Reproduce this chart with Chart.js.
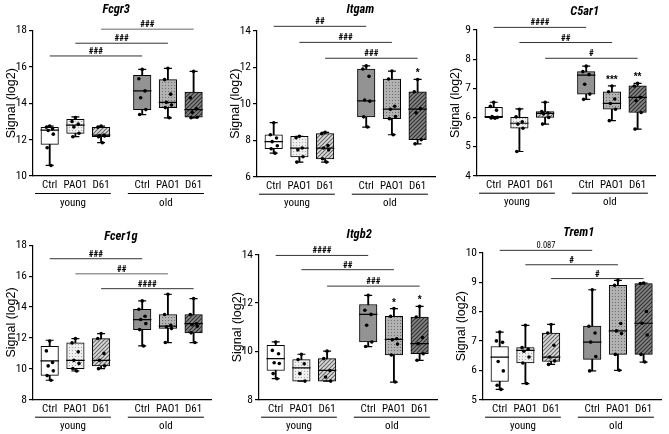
<!DOCTYPE html>
<html>
<head>
<meta charset="utf-8">
<script src="https://cdn.jsdelivr.net/npm/chart.js@4.4.1/dist/chart.umd.min.js"></script>
<style>
  body { margin: 0; background: #fff; }
  #wrap { position: relative; width: 669px; height: 434px; overflow: hidden; background: #fff; }
  canvas { position: absolute; }
</style>
</head>
<body>
<div id="wrap">
  <canvas id="c0" width="223" height="217"></canvas>
  <canvas id="c1" width="223" height="217"></canvas>
  <canvas id="c2" width="223" height="217"></canvas>
  <canvas id="c3" width="223" height="217"></canvas>
  <canvas id="c4" width="223" height="217"></canvas>
  <canvas id="c5" width="223" height="217"></canvas>
</div>
<script>
const genes = ["Fcgr3", "Itgam", "C5ar1", "Fcer1g", "Itgb2", "Trem1"];
const groups = ["Ctrl", "PAO1", "D61", "Ctrl", "PAO1", "D61"];
const ages = ["young", "old"];

const yMin = [10, 6, 4, 8, 8, 5];
const yMax = [18, 14, 9, 18, 14, 10];
const yStep = [2, 2, 1, 2, 2, 1];

// box stats per group: [min, q1, median, q3, max]
const fcgr3Box = [
  [10.58, 11.74, 12.52, 12.67, 12.74], [12.16, 12.34, 12.8, 13.12, 13.25], [11.83, 12.16, 12.25, 12.67, 12.74],
  [13.38, 13.65, 14.68, 15.53, 15.86], [13.2, 13.76, 14.05, 15.3, 15.92], [13.2, 13.23, 13.65, 14.62, 15.75]
];
const itgamBox = [
  [7.29, 7.53, 7.92, 8.3, 8.96], [6.8, 7.09, 7.57, 8.21, 8.21], [6.8, 6.98, 7.57, 8.36, 8.43],
  [8.72, 9.28, 10.16, 11.9, 12.07], [8.3, 9.18, 9.7, 11.35, 11.79], [7.8, 8.03, 9.7, 10.65, 11.33]
];
const c5ar1Box = [
  [5.97, 5.99, 6.03, 6.35, 6.52], [4.83, 5.63, 5.8, 6.0, 6.29], [5.77, 6.0, 6.14, 6.2, 6.52],
  [6.62, 6.8, 7.45, 7.57, 7.76], [5.89, 6.28, 6.48, 6.88, 7.08], [5.6, 6.17, 6.69, 7.08, 7.17]
];
const fcer1gBox = [
  [9.26, 9.58, 10.51, 11.46, 11.85], [9.86, 10.01, 10.55, 11.68, 11.96], [10.01, 10.19, 10.55, 11.96, 12.28],
  [11.48, 12.54, 13.19, 13.86, 14.4], [11.7, 12.61, 12.76, 13.52, 14.83], [11.7, 12.33, 12.93, 13.52, 14.55]
];
const itgb2Box = [
  [8.87, 9.21, 9.7, 10.25, 10.39], [8.77, 8.77, 9.32, 9.66, 9.88], [8.77, 8.77, 9.21, 9.7, 10.01],
  [10.2, 10.39, 11.53, 11.94, 12.32], [8.73, 9.85, 10.5, 11.45, 11.77], [9.63, 9.9, 10.32, 11.42, 11.86]
];
const trem1Box = [
  [5.35, 5.62, 6.45, 6.81, 7.3], [5.55, 6.25, 6.68, 6.77, 7.53], [6.2, 6.3, 6.45, 7.27, 7.56],
  [5.98, 6.37, 6.96, 7.5, 8.74], [6.0, 6.54, 7.34, 8.89, 9.06], [6.28, 6.54, 7.6, 8.95, 8.97]
];

// individual animals
const fcgr3Pts = [
  [12.74, 12.68, 12.6, 12.5, 12.3, 11.55, 10.58], [13.22, 13.0, 12.85, 12.7, 12.35, 12.16], [12.74, 12.68, 12.25, 12.22, 12.2, 12.16, 11.83],
  [15.86, 15.35, 14.68, 14.3, 13.65, 13.38], [15.92, 15.3, 14.5, 14.05, 13.9, 13.76, 13.2], [15.75, 14.3, 13.7, 13.5, 13.23, 13.2]
];
const itgamPts = [
  [8.96, 8.3, 8.12, 7.92, 7.7, 7.53, 7.29], [8.21, 8.14, 7.57, 7.47, 7.09, 6.8], [8.43, 8.36, 7.71, 7.57, 7.47, 6.98, 6.8],
  [12.07, 11.9, 11.5, 10.2, 10.14, 9.28, 8.72], [11.79, 11.35, 9.86, 9.7, 9.3, 9.18, 8.3], [11.33, 10.65, 9.73, 9.5, 8.03, 7.8]
];
const c5ar1Pts = [
  [6.52, 6.38, 6.25, 6.03, 6.0, 5.98, 5.97], [6.28, 6.02, 5.85, 5.77, 5.63, 4.83], [6.52, 6.2, 6.15, 6.13, 6.0, 5.77],
  [7.76, 7.57, 7.47, 7.14, 6.8, 6.62], [7.08, 6.88, 6.63, 6.48, 6.28, 5.89], [7.17, 7.08, 6.69, 6.57, 6.17, 5.6]
];
const fcer1gPts = [
  [11.8, 11.16, 10.41, 10.19, 9.87, 9.56, 9.26], [11.96, 11.68, 11.1, 10.55, 10.35, 10.01, 9.86], [12.28, 11.96, 11.0, 10.55, 10.19, 10.01],
  [14.4, 13.86, 13.4, 13.19, 12.93, 12.54, 11.48], [14.83, 13.52, 12.82, 12.72, 12.61, 11.7], [14.55, 13.52, 12.93, 12.85, 12.76, 12.33, 11.7]
];
const itgb2Pts = [
  [10.39, 10.04, 9.9, 9.53, 9.5, 9.08, 8.87], [9.88, 9.66, 9.49, 9.08, 8.77], [10.01, 9.7, 9.21, 8.94, 8.77],
  [12.32, 11.7, 11.53, 11.08, 10.39, 10.2], [11.77, 11.45, 10.52, 10.48, 10.3, 9.85, 8.73], [11.86, 11.42, 10.57, 10.32, 9.9, 9.63]
];
const trem1Pts = [
  [7.3, 7.0, 6.95, 6.3, 5.98, 5.49, 5.35], [7.53, 6.77, 6.72, 6.65, 6.45, 6.25, 5.55], [7.56, 7.27, 6.85, 6.45, 6.32, 6.2],
  [8.74, 7.5, 7.27, 6.96, 6.47, 5.98], [9.06, 8.89, 7.59, 7.34, 7.25, 6.54, 6.0], [8.97, 8.95, 8.0, 7.6, 7.2, 6.54, 6.28]
];

// comparisons: [from group, to group, level, label]
const fcgr3Sig = [[0, 3, 16.6, "###"], [1, 4, 17.3, "###"], [2, 5, 18.07, "###"]];
const itgamSig = [[0, 3, 14.24, "##"], [1, 4, 13.36, "###"], [2, 5, 12.49, "###"]];
const c5ar1Sig = [[0, 3, 9.09, "####"], [1, 4, 8.57, "##"], [2, 5, 8.03, "#"]];
const fcer1gSig = [[0, 3, 17.13, "###"], [1, 4, 16.16, "##"], [2, 5, 15.19, "####"]];
const itgb2Sig = [[0, 3, 13.97, "####"], [1, 4, 13.38, "##"], [2, 5, 12.7, "###"]];
const trem1Sig = [[0, 3, 10.08, "0.087"], [1, 4, 9.59, "#"], [2, 5, 9.12, "#"]];

// stars vs. young of same treatment
const itgamStars = ["", "", "", "", "", "*"];
const c5ar1Stars = ["", "", "", "", "***", "**"];
const itgb2Stars = ["", "", "", "", "*", "*"];
const noStars = ["", "", "", "", "", ""];

const boxes = [fcgr3Box, itgamBox, c5ar1Box, fcer1gBox, itgb2Box, trem1Box];
const points = [fcgr3Pts, itgamPts, c5ar1Pts, fcer1gPts, itgb2Pts, trem1Pts];
const sigs = [fcgr3Sig, itgamSig, c5ar1Sig, fcer1gSig, itgb2Sig, trem1Sig];
const stars = [noStars, itgamStars, c5ar1Stars, noStars, itgb2Stars, noStars];

// layout
const POS = [1, 2, 3, 4.6, 5.6, 6.6];
const JITTER = [0, -0.13, 0.11, -0.06, 0.14, -0.1, 0.05, -0.16];
const LEFT = [-1, 222.7, 443.3, -1, 225, 449];
const TOP = [0, 0, 0, 217, 217, 217];
const PLOT_TOP = [30.5, 30.7, 30, 28.3, 37.7, 35.7];
const X_H = [41, 40.3, 41.3, 34.3, 34.3, 34.3];
const TITLE_X = [3.59, 4.37, 4.54, 3.77, 4.25, 4.08];
const TITLE_Y = [10, 10, 11.7, 20, 18.3, 15.7];
const GRAY_SIG = [[2], [], [], [1], [], []];

const COND = '"Roboto Condensed", "Liberation Sans", Arial, sans-serif';
const SANS = '"Liberation Sans", Arial, sans-serif';

function dots(bg, fg) {
  const c = document.createElement("canvas");
  c.width = 3; c.height = 3;
  const x = c.getContext("2d");
  x.fillStyle = bg; x.fillRect(0, 0, 3, 3);
  x.fillStyle = fg; x.fillRect(1, 1, 1, 1);
  return x.createPattern(c, "repeat");
}
function hatch(bg, fg) {
  const c = document.createElement("canvas");
  c.width = 4; c.height = 4;
  const x = c.getContext("2d");
  x.fillStyle = bg; x.fillRect(0, 0, 4, 4);
  x.strokeStyle = fg; x.lineWidth = 1.1;
  x.beginPath();
  x.moveTo(0, 4); x.lineTo(4, 0);
  x.moveTo(-1, 1); x.lineTo(1, -1);
  x.moveTo(3, 5); x.lineTo(5, 3);
  x.stroke();
  return x.createPattern(c, "repeat");
}
const FILLS = [
  "#ffffff", dots("#efefef", "#a8a8a8"), hatch("#dadada", "#666666"),
  "#939393", dots("#b2b2b2", "#6e6e6e"), hatch("#858585", "#303030")
];

const decor = {
  id: "decor",
  afterDraw(chart, args, opts) {
    const p = opts.panel;
    const { ctx, chartArea } = chart;
    const x = chart.scales.x, y = chart.scales.y;
    ctx.save();
    ctx.fillStyle = "#000";
    ctx.textAlign = "center";
    // title
    ctx.font = "italic bold 12.5px " + COND;
    ctx.textBaseline = "middle";
    ctx.fillText(genes[p], x.getPixelForValue(TITLE_X[p]), TITLE_Y[p]);
    // age groups
    const b = chartArea.bottom;
    ctx.strokeStyle = "#000";
    ctx.lineWidth = 1;
    ctx.font = "11px " + COND;
    [[0.43, 3.38], [4.04, 7.0]].forEach((r, i) => {
      const x0 = x.getPixelForValue(r[0]), x1 = x.getPixelForValue(r[1]);
      ctx.beginPath();
      ctx.moveTo(x0, b + 17.5); ctx.lineTo(x1, b + 17.5);
      ctx.stroke();
      ctx.fillText(ages[i], (x0 + x1) / 2, b + 27);
    });
    // comparison labels
    ctx.textBaseline = "alphabetic";
    sigs[p].forEach(s => {
      const xm = (x.getPixelForValue(POS[s[0]]) + x.getPixelForValue(POS[s[1]])) / 2;
      ctx.font = (s[3][0] === "#" ? "bold 9px " : "8.5px ") + COND;
      ctx.fillText(s[3], xm, y.getPixelForValue(s[2]) - 2);
    });
    // stars
    ctx.font = "bold 10px " + SANS;
    stars[p].forEach((s, i) => {
      if (!s) return;
      ctx.fillText(s, x.getPixelForValue(POS[i]), y.getPixelForValue(boxes[p][i][4]) - 3);
    });
    ctx.restore();
  }
};

function makeChart(p) {
  const box = boxes[p];
  const datasets = [];
  // whiskers
  datasets.push({
    type: "bar", grouped: false, order: 6,
    data: POS.map((v, i) => ({ x: v, y: [box[i][0], box[i][4]] })),
    backgroundColor: "#000", barThickness: 1.2
  });
  // boxes
  datasets.push({
    type: "bar", grouped: false, order: 5,
    data: POS.map((v, i) => ({ x: v, y: [box[i][1], box[i][3]] })),
    backgroundColor: FILLS, borderColor: "#000", borderWidth: 1, borderSkipped: false, barThickness: 17.5
  });
  // whisker caps
  const caps = [];
  POS.forEach((v, i) => { caps.push({ x: v, y: box[i][0] }); caps.push({ x: v, y: box[i][4] }); });
  datasets.push({
    type: "scatter", order: 4, data: caps,
    pointStyle: "line", pointRadius: 4, borderColor: "#000", borderWidth: 1.2
  });
  // medians
  datasets.push({
    type: "scatter", order: 3,
    data: POS.map((v, i) => ({ x: v, y: box[i][2] })),
    pointStyle: "line", pointRadius: 9.2, borderColor: "#000", borderWidth: 1.2
  });
  // points
  const pts = [];
  points[p].forEach((g, i) => g.forEach((val, j) => pts.push({ x: POS[i] + JITTER[j % JITTER.length], y: val })));
  datasets.push({
    type: "scatter", order: 1, data: pts,
    pointRadius: 1.8, backgroundColor: "#000", borderWidth: 0
  });
  // comparison brackets
  sigs[p].forEach((s, k) => {
    const gray = GRAY_SIG[p].includes(k);
    datasets.push({
      type: "line", order: 2, clip: false,
      data: [{ x: POS[s[0]], y: s[2] }, { x: POS[s[1]], y: s[2] }],
      borderColor: gray ? "#9a9a9a" : "#333", borderWidth: gray ? 1.4 : 1, pointRadius: 0
    });
  });

  const canvas = document.getElementById("c" + p);
  canvas.style.left = LEFT[p] + "px";
  canvas.style.top = TOP[p] + "px";

  new Chart(canvas.getContext("2d"), {
    type: "bar",
    data: { datasets },
    plugins: [decor],
    options: {
      responsive: false,
      animation: false,
      events: [],
      layout: { padding: { top: PLOT_TOP[p], left: 0, right: 6, bottom: 0 } },
      plugins: {
        legend: { display: false },
        tooltip: { enabled: false },
        decor: { panel: p }
      },
      scales: {
        x: {
          type: "linear", min: 0.35, max: 7.3, offset: false,
          afterBuildTicks: s => { s.ticks = POS.map(v => ({ value: v })); },
          afterFit: s => { s.height = X_H[p]; s.paddingLeft = 0; s.paddingRight = 0; },
          ticks: {
            callback: (v, i) => groups[i],
            autoSkip: false, maxRotation: 0, minRotation: 0, padding: 3,
            color: "#000", font: { size: 11, family: COND }
          },
          grid: { display: false, drawTicks: false, offset: false },
          border: { color: "#000", width: 1.2 }
        },
        y: {
          min: yMin[p], max: yMax[p],
          afterFit: s => { s.width = 34; },
          ticks: { stepSize: yStep[p], padding: 2, color: "#000", font: { size: 11.5, family: COND } },
          grid: { drawOnChartArea: false, tickLength: 4, color: "#000", lineWidth: 1.2 },
          border: { color: "#000", width: 1.2 },
          title: {
            display: true, text: "Signal (log2)", color: "#000",
            font: { size: 12.5, family: SANS }, padding: { top: 5, bottom: 0 }
          }
        }
      }
    }
  });
}

for (let p = 0; p < 6; p++) makeChart(p);
</script>
</body>
</html>
